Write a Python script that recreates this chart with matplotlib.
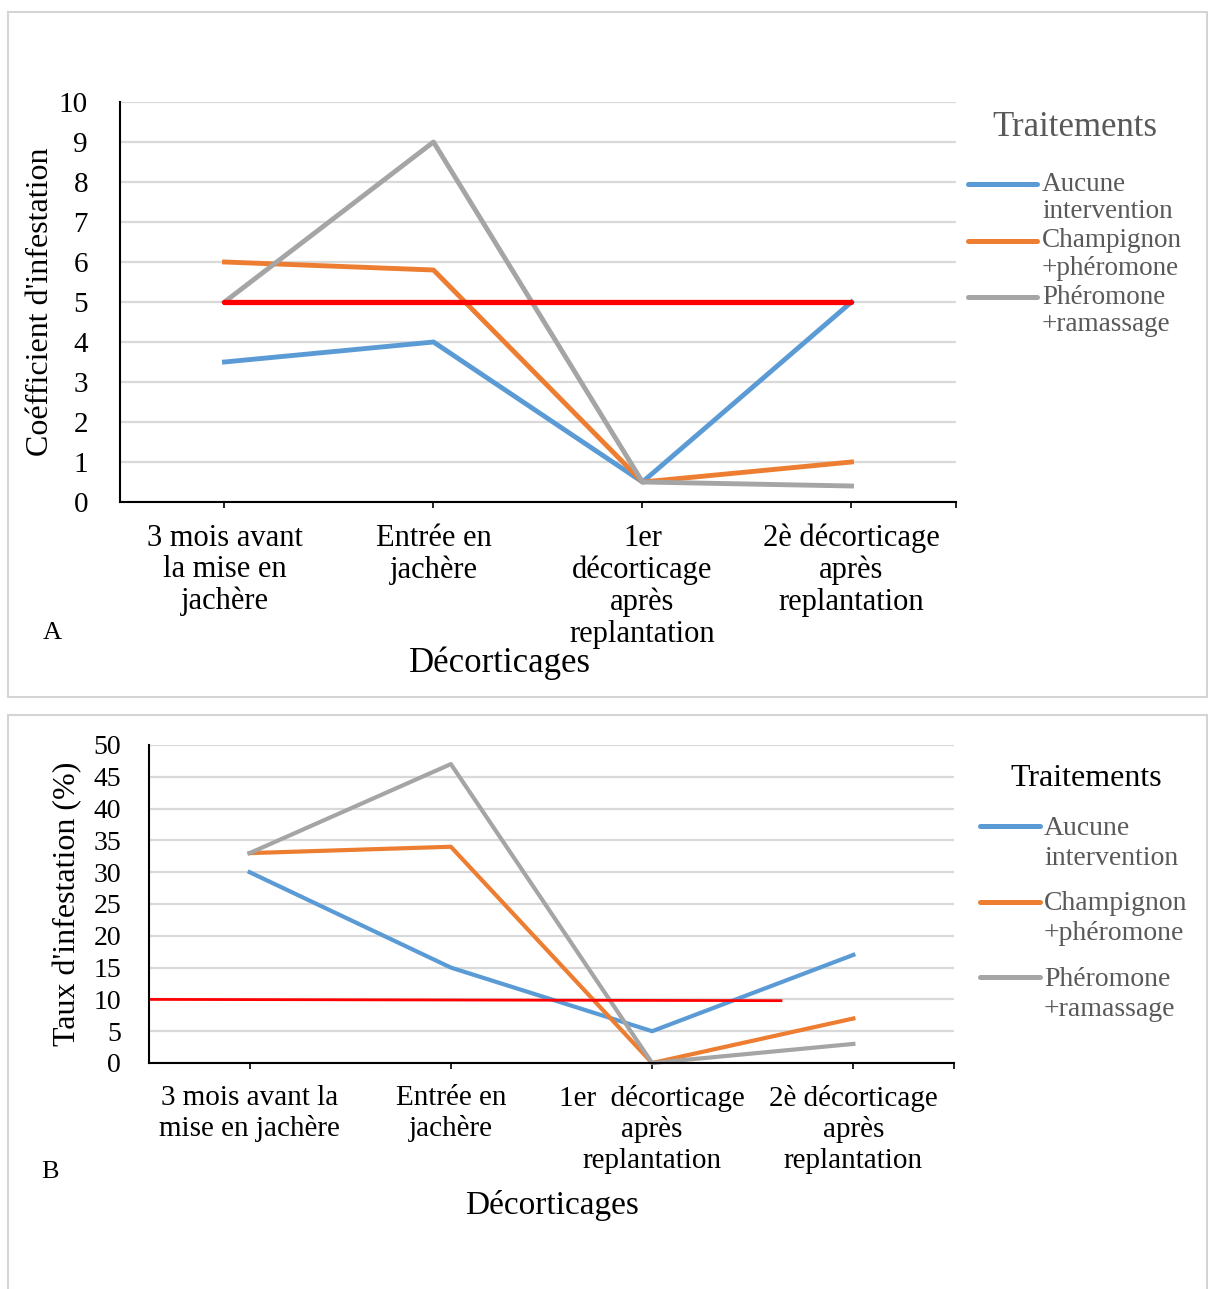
import matplotlib
matplotlib.use("Agg")
import matplotlib.pyplot as plt
from matplotlib.patches import Rectangle
from matplotlib.lines import Line2D

plt.rcParams['font.family'] = ['Liberation Serif', 'DejaVu Serif']

# data
treatments = ["Aucune\nintervention", "Champignon\n+phéromone", "Phéromone\n+ramassage"]
colors = ["#5B9BD5", "#ED7D31", "#A5A5A5"]

cats_a = ["3 mois avant\nla mise en\njachère", "Entrée en\njachère",
          "1er\ndécorticage\naprès\nreplantation", "2è décorticage\naprès\nreplantation"]
cats_b = ["3 mois avant la\nmise en jachère", "Entrée en\njachère",
          "1er  décorticage\naprès\nreplantation", "2è décorticage\naprès\nreplantation"]

coef_aucune = [3.5, 4.0, 0.5, 5.0]
coef_champ = [6.0, 5.8, 0.5, 1.0]
coef_pherom = [5.0, 9.0, 0.5, 0.4]
seuil_a_x = [0, 3]
seuil_a_y = [5, 5]

taux_aucune = [30, 15, 5, 17]
taux_champ = [33, 34, 0, 7]
taux_pherom = [33, 47, 0, 3]
seuil_b_x = [-0.5, 2.64]
seuil_b_y = [10, 9.8]

fig = plt.figure(figsize=(12.08, 12.89), dpi=100)
W, H = 1208, 1289

# panel frames
for (x0, y0, x1, y1) in [(8, 12, 1207, 697), (8, 715, 1207, 1300)]:
    fig.patches.append(Rectangle((x0 / W, 1 - y1 / H), (x1 - x0) / W, (y1 - y0) / H,
                                 transform=fig.transFigure, fill=False,
                                 edgecolor="#d4d4d4", linewidth=1.5))


def style_axes(ax, ymax, ystep, tick_fs, pad):
    ax.set_xlim(-0.5, 3.5)
    ax.set_ylim(0, ymax)
    ax.set_yticks(range(0, ymax + 1, ystep))
    ax.yaxis.grid(True, color="#d9d9d9", linewidth=1.6)
    ax.set_axisbelow(True)
    for s in ["top", "right"]:
        ax.spines[s].set_visible(False)
    for s in ["left", "bottom"]:
        ax.spines[s].set_color("black")
        ax.spines[s].set_linewidth(1.5)
    ax.set_xticks([3.5], minor=True)
    ax.tick_params(axis="x", which="both", length=4.5, width=1.2, color="black")
    ax.tick_params(axis="y", length=0, pad=pad, labelsize=tick_fs)


# ---- panel A
axA = fig.add_axes([120 / W, 1 - 502 / H, 836 / W, 400 / H])
style_axes(axA, 10, 1, 21, 23)
for vals, c in zip([coef_aucune, coef_champ, coef_pherom], colors):
    axA.plot(range(4), vals, color=c, linewidth=3.5, clip_on=False)
axA.plot(seuil_a_x, seuil_a_y, color="#FF0000", linewidth=3.8, solid_capstyle="round")
axA.set_xticks(range(4))
axA.set_xticklabels(cats_a, fontsize=22, linespacing=1.12)
axA.tick_params(axis="x", pad=11)
axA.set_ylabel("Coéfficient d'infestation", fontsize=23)
axA.yaxis.set_label_coords(-0.078, 0.5)
axA.set_xlabel("Décorticages", fontsize=25)
axA.xaxis.set_label_coords(0.4545, -0.3625)

# ---- panel B
axB = fig.add_axes([149 / W, 1 - 1063 / H, 805 / W, 318 / H])
style_axes(axB, 50, 5, 20, 20)
for vals, c in zip([taux_aucune, taux_champ, taux_pherom], colors):
    axB.plot(range(4), vals, color=c, linewidth=3.0, clip_on=False)
axB.plot(seuil_b_x, seuil_b_y, color="#FF0000", linewidth=2.0)
axB.set_xticks(range(4))
axB.set_xticklabels(cats_b, fontsize=21, linespacing=1.22)
axB.tick_params(axis="x", pad=11)
axB.set_ylabel("Taux d'infestation (%)", fontsize=23)
axB.yaxis.set_label_coords(-0.083, 0.5)
axB.set_xlabel("Décorticages", fontsize=24)
axB.xaxis.set_label_coords(0.5006, -0.40)

# ---- legends
fig.text(1075 / W, 1 - 128 / H, "Traitements", fontsize=25, color="#595959",
         ha="center", va="center")
for i, (lab, c) in enumerate(zip(treatments, colors)):
    y = 1 - (184 + 56.5 * i) / H
    fig.add_artist(Line2D([968 / W, 1037 / W], [y, y], color=c, linewidth=3.6,
                          solid_capstyle="round", transform=fig.transFigure))
    fig.text(1042 / W, y + 12 / H, lab, fontsize=19.5, color="#595959", ha="left",
             va="top", linespacing=1.12)

fig.text(1086 / W, 1 - 778 / H, "Traitements", fontsize=23, color="black",
         ha="center", va="center")
for i, (lab, c) in enumerate(zip(treatments, colors)):
    y = 1 - (826 + 75.5 * i) / H
    fig.add_artist(Line2D([980 / W, 1040 / W], [y, y], color=c, linewidth=3.6,
                          solid_capstyle="round", transform=fig.transFigure))
    fig.text(1044 / W, y + 10 / H, lab, fontsize=20, color="#595959", ha="left",
             va="top", linespacing=1.26)

# panel letters
fig.text(52 / W, 1 - 633 / H, "A", fontsize=19, ha="center", va="center")
fig.text(50 / W, 1 - 1172 / H, "B", fontsize=19, ha="center", va="center")

fig.savefig("out.png", dpi=100, facecolor="white")
